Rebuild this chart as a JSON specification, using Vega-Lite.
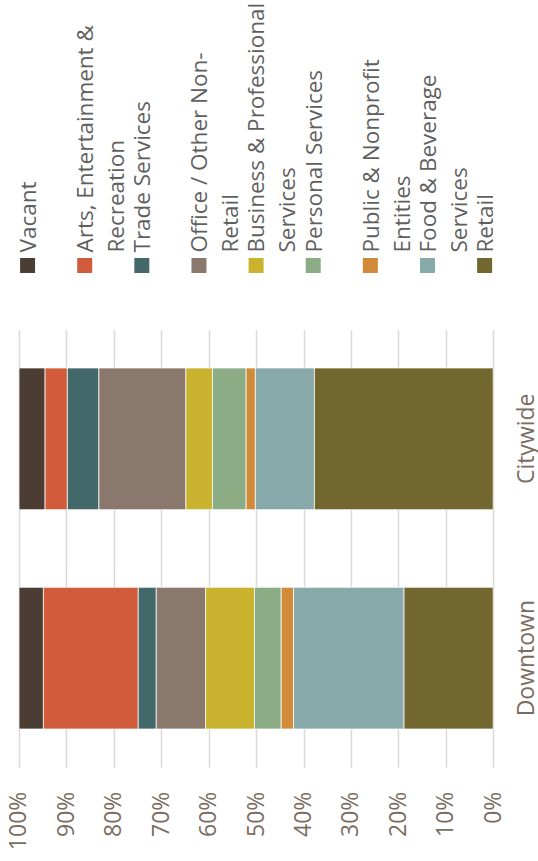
{
  "$schema": "https://vega.github.io/schema/vega-lite/v6.json",
  "background": "white",
  "padding": {"left": 8, "top": 0, "right": 0, "bottom": 0},
  "bounds": "flush",
  "spacing": 63.8,
  "config": {"view": {"stroke": null}, "font": "Open Sans"},
  "datasets": {
    "uses": [
      {"use": "Vacant", "label": "Vacant", "k": 1},
      {"use": "Arts, Entertainment & Recreation", "label": "Arts, Entertainment &\nRecreation", "k": 2},
      {"use": "Trade Services", "label": "Trade Services", "k": 3},
      {"use": "Office / Other Non-Retail", "label": "Office / Other Non-\nRetail", "k": 4},
      {"use": "Business & Professional Services", "label": "Business & Professional\nServices", "k": 5},
      {"use": "Personal Services", "label": "Personal Services", "k": 6},
      {"use": "Public & Nonprofit Entities", "label": "Public & Nonprofit\nEntities", "k": 7},
      {"use": "Food & Beverage Services", "label": "Food & Beverage\nServices", "k": 8},
      {"use": "Retail", "label": "Retail", "k": 9}
    ],
    "shares": [
      {"area": "Downtown", "use": "Vacant", "k": 1, "pct": 5.15},
      {"area": "Downtown", "use": "Arts, Entertainment & Recreation", "k": 2, "pct": 20.0},
      {"area": "Downtown", "use": "Trade Services", "k": 3, "pct": 3.8},
      {"area": "Downtown", "use": "Office / Other Non-Retail", "k": 4, "pct": 10.4},
      {"area": "Downtown", "use": "Business & Professional Services", "k": 5, "pct": 10.3},
      {"area": "Downtown", "use": "Personal Services", "k": 6, "pct": 5.65},
      {"area": "Downtown", "use": "Public & Nonprofit Entities", "k": 7, "pct": 2.6},
      {"area": "Downtown", "use": "Food & Beverage Services", "k": 8, "pct": 23.3},
      {"area": "Downtown", "use": "Retail", "k": 9, "pct": 18.8},
      {"area": "Citywide", "use": "Vacant", "k": 1, "pct": 5.5},
      {"area": "Citywide", "use": "Arts, Entertainment & Recreation", "k": 2, "pct": 4.7},
      {"area": "Citywide", "use": "Trade Services", "k": 3, "pct": 6.65},
      {"area": "Citywide", "use": "Office / Other Non-Retail", "k": 4, "pct": 18.35},
      {"area": "Citywide", "use": "Business & Professional Services", "k": 5, "pct": 5.6},
      {"area": "Citywide", "use": "Personal Services", "k": 6, "pct": 7.1},
      {"area": "Citywide", "use": "Public & Nonprofit Entities", "k": 7, "pct": 1.95},
      {"area": "Citywide", "use": "Food & Beverage Services", "k": 8, "pct": 12.45},
      {"area": "Citywide", "use": "Retail", "k": 9, "pct": 37.7}
    ]
  },
  "vconcat": [
    {
      "width": 474.2,
      "height": 265.5,
      "data": {"name": "uses"},
      "encoding": {
        "x": {
          "field": "use",
          "type": "nominal",
          "sort": ["Vacant", "Arts, Entertainment & Recreation", "Trade Services", "Office / Other Non-Retail", "Business & Professional Services", "Personal Services", "Public & Nonprofit Entities", "Food & Beverage Services", "Retail"],
          "scale": {"type": "point", "padding": 0.15},
          "axis": null
        },
        "y": {"datum": 0, "type": "quantitative", "scale": {"domain": [0, 1]}, "axis": null}
      },
      "layer": [
        {
          "mark": {"type": "square", "size": 225, "filled": true, "opacity": 1},
          "encoding": {
            "color": {
              "field": "use",
              "type": "nominal",
              "scale": {
                "domain": ["Vacant", "Arts, Entertainment & Recreation", "Trade Services", "Office / Other Non-Retail", "Business & Professional Services", "Personal Services", "Public & Nonprofit Entities", "Food & Beverage Services", "Retail"],
                "range": ["#4b3d33", "#d15c3b", "#426869", "#89786b", "#c9b22e", "#8cac86", "#d18a38", "#87a9aa", "#72682f"]
              },
              "legend": null
            }
          }
        },
        {
          "mark": {
            "type": "text",
            "angle": -90,
            "align": "left",
            "baseline": "alphabetic",
            "dx": 13,
            "dy": 8.3,
            "fontSize": 22.5,
            "lineHeight": 31,
            "lineBreak": "\n",
            "color": "#5f5f5f",
            "clip": true
          },
          "encoding": {"text": {"field": "label", "type": "nominal"}}
        }
      ]
    },
    {
      "width": 474.2,
      "height": 437.4,
      "data": {"name": "shares"},
      "mark": {"type": "bar", "stroke": "#ffffff", "strokeWidth": 0.75},
      "encoding": {
        "x": {
          "field": "pct",
          "type": "quantitative",
          "stack": "normalize",
          "scale": {"domain": [0, 1], "reverse": true},
          "axis": {
            "title": null,
            "values": [0, 0.1, 0.2, 0.3, 0.4, 0.5, 0.6, 0.7, 0.8, 0.9, 1],
            "format": ".0%",
            "labelAngle": -90,
            "labelAlign": "right",
            "labelBaseline": "middle",
            "labelPadding": 24,
            "labelFlush": false,
            "labelOverlap": false,
            "labelFontSize": 23,
            "labelColor": "#7a6c60",
            "ticks": false,
            "tickSize": 0,
            "domain": false,
            "grid": true,
            "gridColor": "#d9d9d9",
            "gridWidth": 1.5
          }
        },
        "y": {
          "field": "area",
          "type": "nominal",
          "sort": ["Citywide", "Downtown"],
          "scale": {"paddingInner": 0.354, "paddingOuter": 0.174},
          "axis": {
            "title": null,
            "orient": "right",
            "labelAngle": -90,
            "labelAlign": "center",
            "labelBaseline": "top",
            "labelPadding": 22.5,
            "labelFontSize": 23,
            "labelColor": "#7a6c60",
            "ticks": false,
            "tickSize": 0,
            "domain": false,
            "grid": false
          }
        },
        "color": {
          "field": "use",
          "type": "nominal",
          "scale": {
            "domain": ["Vacant", "Arts, Entertainment & Recreation", "Trade Services", "Office / Other Non-Retail", "Business & Professional Services", "Personal Services", "Public & Nonprofit Entities", "Food & Beverage Services", "Retail"],
            "range": ["#4b3d33", "#d15c3b", "#426869", "#89786b", "#c9b22e", "#8cac86", "#d18a38", "#87a9aa", "#72682f"]
          },
          "legend": null
        },
        "order": {"field": "k", "type": "quantitative", "sort": "descending"}
      }
    }
  ]
}
